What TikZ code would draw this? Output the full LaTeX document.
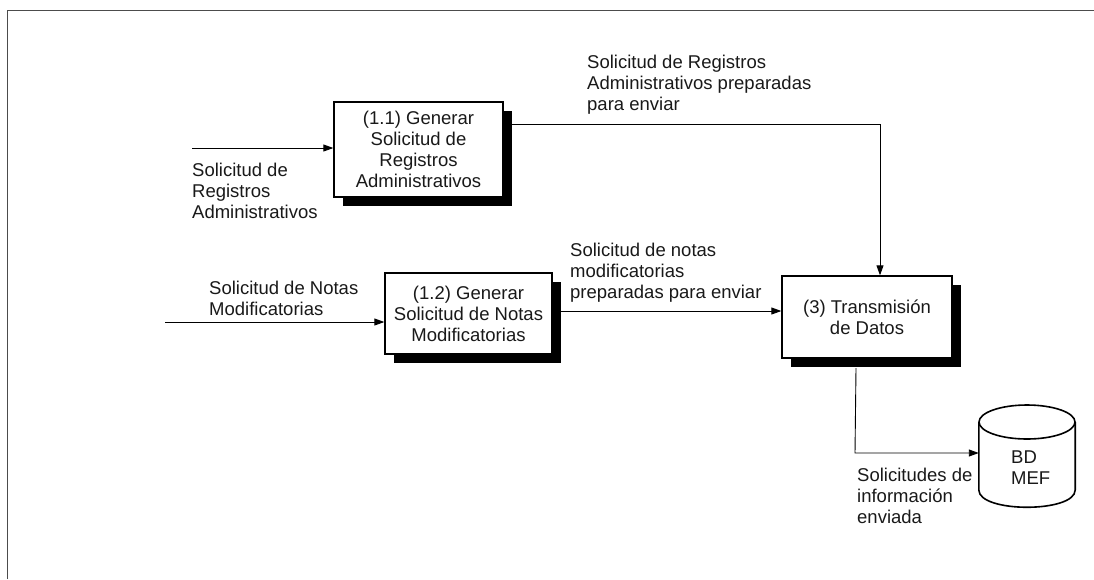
\documentclass[tikz,border=0pt]{standalone}
\usepackage{fontspec}
\setmainfont{Liberation Sans}
\usetikzlibrary{arrows.meta,shadows}
\begin{document}
\begin{tikzpicture}[x=1pt,y=-1pt,
  every node/.style={font=\fontsize{18.5}{21}\selectfont, text=black!90},
  procbox/.style={draw, line width=1.3pt, fill=white, align=center, inner sep=0pt,
    drop shadow={shadow xshift=9pt, shadow yshift=-9pt, fill=black, opacity=1}},
  lbl/.style={align=left, anchor=west, inner sep=0pt},
  arr/.style={-{Triangle[length=10pt,width=7pt]}, line width=0.9pt},
  frame/.style={draw=black!70, line width=1pt},
  dbline/.style={line width=1.6pt}]
\useasboundingbox (0,0) rectangle (1094,579);
% frame
\draw[frame] (7,579) -- (7,10) -- (1094,10);

% process boxes
\node[procbox, minimum width=169pt, minimum height=95pt] (b11) at (418.5,149.5)
  {(1.1) Generar\\Solicitud de\\Registros\\Administrativos};
\node[procbox, minimum width=167pt, minimum height=81pt] (b12) at (468.5,313.5)
  {(1.2) Generar\\Solicitud de Notas\\Modificatorias};
\node[procbox, minimum width=170pt, minimum height=82pt] (b3) at (867,317)
  {(3) Transmisión\\de Datos};

% data store
\node[minimum width=96pt, minimum height=102pt, inner sep=0pt] (db) at (1027,456) {};
\draw[dbline, fill=white] (db.west |- 0,422) -- (db.west |- 0,490)
  .. controls (979,513) and (1075,513) .. (db.east |- 0,490) -- (db.east |- 0,422);
\draw[dbline] (1027,422) ellipse [x radius=48, y radius=17];
\node[lbl] (dbt) at (1011,467.5) {BD\\MEF};

% labels
\node[lbl] (l1) at (192,191) {Solicitud de\\Registros\\Administrativos};
\node[lbl] (l2) at (587,85) {Solicitud de Registros\\Administrativos preparadas\\para enviar};
\node[lbl] (l3) at (209,298) {Solicitud de Notas\\Modificatorias};
\node[lbl] (l4) at (570,273) {Solicitud de notas\\modificatorias\\preparadas para enviar};
\node[lbl] (l5) at (857,496) {Solicitudes de\\información\\enviada};

% connectors
\coordinate (in1) at (192,148);
\draw[arr] (in1) -- (in1 -| b11.west);
\coordinate (in2) at (165,322);
\draw[arr] (in2) -- (in2 -| b12.west);
\coordinate (o11) at (503,124);
\coordinate (c1) at (880,124);
\draw[arr] (o11) -- (c1) -- (c1 |- b3.north);
\coordinate (o12) at (558,311);
\draw[arr] (o12) -- (o12 -| b3.west);
\coordinate (o3a) at (856,368);
\coordinate (o3b) at (855,453);
\draw[arr] (o3a) -- (o3b) -- (o3b -| db.west);
\end{tikzpicture}
\end{document}
